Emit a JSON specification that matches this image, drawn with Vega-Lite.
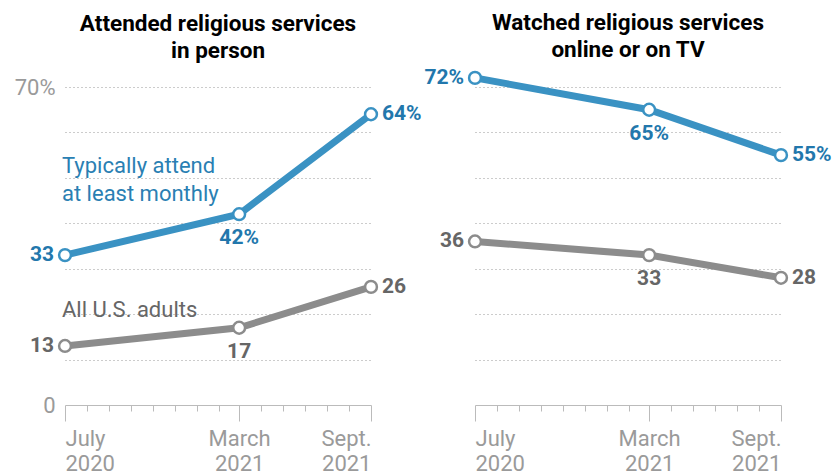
{
  "$schema": "https://vega.github.io/schema/vega-lite/v6.json",
  "padding": {"left": 14, "right": 5, "top": 12, "bottom": 0},
  "bounds": "flush",
  "spacing": 104,
  "config": {
    "font": "Roboto",
    "view": {"stroke": null},
    "title": {"font": "Roboto", "fontSize": 22.5, "fontWeight": "bold", "color": "#000000", "anchor": "middle", "lineHeight": 27, "offset": 14}
  },
  "data": {
    "values": [
      {"panel": "person", "series": "Typically attend at least monthly", "date": "2020-07-01", "value": 33, "label": "33"},
      {"panel": "person", "series": "Typically attend at least monthly", "date": "2021-03-01", "value": 42, "label": "42%"},
      {"panel": "person", "series": "Typically attend at least monthly", "date": "2021-09-01", "value": 64, "label": "64%"},
      {"panel": "person", "series": "All U.S. adults", "date": "2020-07-01", "value": 13, "label": "13"},
      {"panel": "person", "series": "All U.S. adults", "date": "2021-03-01", "value": 17, "label": "17"},
      {"panel": "person", "series": "All U.S. adults", "date": "2021-09-01", "value": 26, "label": "26"},
      {"panel": "online", "series": "Typically attend at least monthly", "date": "2020-07-01", "value": 72, "label": "72%"},
      {"panel": "online", "series": "Typically attend at least monthly", "date": "2021-03-01", "value": 65, "label": "65%"},
      {"panel": "online", "series": "Typically attend at least monthly", "date": "2021-09-01", "value": 55, "label": "55%"},
      {"panel": "online", "series": "All U.S. adults", "date": "2020-07-01", "value": 36, "label": "36"},
      {"panel": "online", "series": "All U.S. adults", "date": "2021-03-01", "value": 33, "label": "33"},
      {"panel": "online", "series": "All U.S. adults", "date": "2021-09-01", "value": 28, "label": "28"}
    ]
  },
  "hconcat": [
    {
      "title": {"text": ["Attended religious services", "in person"]},
      "width": 306,
      "height": 318,
      "transform": [{"filter": "datum.panel == 'person'"}],
      "encoding": {
        "x": {
          "field": "date", "type": "temporal",
          "scale": {"type": "utc", "domain": [{"year": 2020, "month": 7, "date": 1, "utc": true}, {"year": 2021, "month": 9, "date": 1, "utc": true}]},
          "axis": {
            "title": null,
            "grid": false,
            "values": [
              {"year": 2020, "month": 7, "date": 1, "utc": true},
              {"year": 2020, "month": 8, "date": 1, "utc": true},
              {"year": 2020, "month": 9, "date": 1, "utc": true},
              {"year": 2020, "month": 10, "date": 1, "utc": true},
              {"year": 2020, "month": 11, "date": 1, "utc": true},
              {"year": 2020, "month": 12, "date": 1, "utc": true},
              {"year": 2021, "month": 1, "date": 1, "utc": true},
              {"year": 2021, "month": 2, "date": 1, "utc": true},
              {"year": 2021, "month": 3, "date": 1, "utc": true},
              {"year": 2021, "month": 4, "date": 1, "utc": true},
              {"year": 2021, "month": 5, "date": 1, "utc": true},
              {"year": 2021, "month": 6, "date": 1, "utc": true},
              {"year": 2021, "month": 7, "date": 1, "utc": true},
              {"year": 2021, "month": 8, "date": 1, "utc": true},
              {"year": 2021, "month": 9, "date": 1, "utc": true}
            ],
            "labelExpr": "(utcmonth(datum.value) == 6 && utcyear(datum.value) == 2020) ? ['July', '2020'] : (utcmonth(datum.value) == 2) ? ['March', '2021'] : (utcmonth(datum.value) == 8 && utcyear(datum.value) == 2021) ? ['Sept.', '2021'] : ''",
            "tickSize": {"condition": {"test": "(utcmonth(datum.value) == 6 && utcyear(datum.value) == 2020) || utcmonth(datum.value) == 2 || (utcmonth(datum.value) == 8 && utcyear(datum.value) == 2021)", "value": 16}, "value": 6},
            "tickColor": "#bbbbbb",
            "domainColor": "#bbbbbb",
            "labelColor": "#9a9a9a",
            "labelFont": "Roboto",
            "labelFontSize": 22,
            "labelLineHeight": 25,
            "labelFlush": true,
            "labelOverlap": false,
            "labelPadding": 7
          }
        },
        "y": {
          "field": "value", "type": "quantitative",
          "scale": {"domain": [0, 70], "nice": false},
          "axis": {
            "title": null,
            "values": [0, 10, 20, 30, 40, 50, 60, 70],
            "domain": false,
            "ticks": false,
            "grid": true,
            "gridDash": [1, 3],
            "gridColor": "#999999",
            "gridOpacity": {"condition": {"test": "datum.value == 0", "value": 0}, "value": 1},
            "labelExpr": "datum.value == 70 ? '70%' : datum.value == 0 ? '0' : ''",
            "labelColor": "#9a9a9a",
            "labelFont": "Roboto",
            "labelFontSize": 22,
            "labelPadding": 10
          }
        }
      },
      "layer": [
        {
          "mark": {"type": "line", "strokeWidth": 7},
          "encoding": {
            "color": {"field": "series", "type": "nominal", "scale": {"domain": ["Typically attend at least monthly", "All U.S. adults"], "range": ["#3a92c3", "#8c8c8c"]}, "legend": null}
          }
        },
        {
          "mark": {"type": "circle", "fill": "white", "strokeWidth": 2.5, "size": 140, "opacity": 1},
          "encoding": {
            "stroke": {"field": "series", "type": "nominal", "scale": {"domain": ["Typically attend at least monthly", "All U.S. adults"], "range": ["#3a92c3", "#8c8c8c"]}, "legend": null}
          }
        },
        {
          "transform": [{"filter": "utcmonth(datum.date) == 6"}],
          "mark": {"type": "text", "align": "right", "baseline": "middle", "dx": -11, "fontSize": 21, "fontWeight": "bold"},
          "encoding": {
            "text": {"field": "label"},
            "fill": {"field": "series", "type": "nominal", "scale": {"domain": ["Typically attend at least monthly", "All U.S. adults"], "range": ["#2277ac", "#666666"]}, "legend": null}
          }
        },
        {
          "transform": [{"filter": "utcmonth(datum.date) == 2"}],
          "mark": {"type": "text", "align": "center", "baseline": "middle", "dy": 24, "fontSize": 21, "fontWeight": "bold"},
          "encoding": {
            "text": {"field": "label"},
            "fill": {"field": "series", "type": "nominal", "scale": {"domain": ["Typically attend at least monthly", "All U.S. adults"], "range": ["#2277ac", "#666666"]}, "legend": null}
          }
        },
        {
          "transform": [{"filter": "utcmonth(datum.date) == 8"}],
          "mark": {"type": "text", "align": "left", "baseline": "middle", "dx": 11, "fontSize": 21, "fontWeight": "bold"},
          "encoding": {
            "text": {"field": "label"},
            "fill": {"field": "series", "type": "nominal", "scale": {"domain": ["Typically attend at least monthly", "All U.S. adults"], "range": ["#2277ac", "#666666"]}, "legend": null}
          }
        },
        {
          "transform": [{"filter": "datum.series == 'Typically attend at least monthly' && utcmonth(datum.date) == 6"}],
          "mark": {"type": "text", "align": "left", "baseline": "middle", "dx": -3, "fontSize": 22, "lineHeight": 28, "color": "#2a7fb3", "text": ["Typically attend", "at least monthly"]},
          "encoding": {
            "y": {"datum": 52.6, "type": "quantitative"}
          }
        },
        {
          "transform": [{"filter": "datum.series == 'All U.S. adults' && utcmonth(datum.date) == 6"}],
          "mark": {"type": "text", "align": "left", "baseline": "middle", "dx": -3, "fontSize": 22, "color": "#666666", "text": "All U.S. adults"},
          "encoding": {
            "y": {"datum": 21, "type": "quantitative"}
          }
        }
      ]
    },
    {
      "title": {"text": ["Watched religious services", "online or on TV"], "offset": 2},
      "width": 306,
      "height": 318,
      "transform": [{"filter": "datum.panel == 'online'"}],
      "encoding": {
        "x": {
          "field": "date", "type": "temporal",
          "scale": {"type": "utc", "domain": [{"year": 2020, "month": 7, "date": 1, "utc": true}, {"year": 2021, "month": 9, "date": 1, "utc": true}]},
          "axis": {
            "title": null,
            "grid": false,
            "values": [
              {"year": 2020, "month": 7, "date": 1, "utc": true},
              {"year": 2020, "month": 8, "date": 1, "utc": true},
              {"year": 2020, "month": 9, "date": 1, "utc": true},
              {"year": 2020, "month": 10, "date": 1, "utc": true},
              {"year": 2020, "month": 11, "date": 1, "utc": true},
              {"year": 2020, "month": 12, "date": 1, "utc": true},
              {"year": 2021, "month": 1, "date": 1, "utc": true},
              {"year": 2021, "month": 2, "date": 1, "utc": true},
              {"year": 2021, "month": 3, "date": 1, "utc": true},
              {"year": 2021, "month": 4, "date": 1, "utc": true},
              {"year": 2021, "month": 5, "date": 1, "utc": true},
              {"year": 2021, "month": 6, "date": 1, "utc": true},
              {"year": 2021, "month": 7, "date": 1, "utc": true},
              {"year": 2021, "month": 8, "date": 1, "utc": true},
              {"year": 2021, "month": 9, "date": 1, "utc": true}
            ],
            "labelExpr": "(utcmonth(datum.value) == 6 && utcyear(datum.value) == 2020) ? ['July', '2020'] : (utcmonth(datum.value) == 2) ? ['March', '2021'] : (utcmonth(datum.value) == 8 && utcyear(datum.value) == 2021) ? ['Sept.', '2021'] : ''",
            "tickSize": {"condition": {"test": "(utcmonth(datum.value) == 6 && utcyear(datum.value) == 2020) || utcmonth(datum.value) == 2 || (utcmonth(datum.value) == 8 && utcyear(datum.value) == 2021)", "value": 16}, "value": 6},
            "tickColor": "#bbbbbb",
            "domainColor": "#bbbbbb",
            "labelColor": "#9a9a9a",
            "labelFont": "Roboto",
            "labelFontSize": 22,
            "labelLineHeight": 25,
            "labelFlush": true,
            "labelOverlap": false,
            "labelPadding": 7
          }
        },
        "y": {
          "field": "value", "type": "quantitative",
          "scale": {"domain": [0, 70], "nice": false},
          "axis": {
            "title": null,
            "values": [0, 10, 20, 30, 40, 50, 60, 70],
            "domain": false,
            "ticks": false,
            "labels": false,
            "grid": true,
            "gridDash": [1, 3],
            "gridColor": "#999999",
            "gridOpacity": {"condition": {"test": "datum.value == 0", "value": 0}, "value": 1}
          }
        }
      },
      "layer": [
        {
          "mark": {"type": "line", "strokeWidth": 7},
          "encoding": {
            "color": {"field": "series", "type": "nominal", "scale": {"domain": ["Typically attend at least monthly", "All U.S. adults"], "range": ["#3a92c3", "#8c8c8c"]}, "legend": null}
          }
        },
        {
          "mark": {"type": "circle", "fill": "white", "strokeWidth": 2.5, "size": 140, "opacity": 1},
          "encoding": {
            "stroke": {"field": "series", "type": "nominal", "scale": {"domain": ["Typically attend at least monthly", "All U.S. adults"], "range": ["#3a92c3", "#8c8c8c"]}, "legend": null}
          }
        },
        {
          "transform": [{"filter": "utcmonth(datum.date) == 6"}],
          "mark": {"type": "text", "align": "right", "baseline": "middle", "dx": -11, "fontSize": 21, "fontWeight": "bold"},
          "encoding": {
            "text": {"field": "label"},
            "fill": {"field": "series", "type": "nominal", "scale": {"domain": ["Typically attend at least monthly", "All U.S. adults"], "range": ["#2277ac", "#666666"]}, "legend": null}
          }
        },
        {
          "transform": [{"filter": "utcmonth(datum.date) == 2"}],
          "mark": {"type": "text", "align": "center", "baseline": "middle", "dy": 24, "fontSize": 21, "fontWeight": "bold"},
          "encoding": {
            "text": {"field": "label"},
            "fill": {"field": "series", "type": "nominal", "scale": {"domain": ["Typically attend at least monthly", "All U.S. adults"], "range": ["#2277ac", "#666666"]}, "legend": null}
          }
        },
        {
          "transform": [{"filter": "utcmonth(datum.date) == 8"}],
          "mark": {"type": "text", "align": "left", "baseline": "middle", "dx": 11, "fontSize": 21, "fontWeight": "bold"},
          "encoding": {
            "text": {"field": "label"},
            "fill": {"field": "series", "type": "nominal", "scale": {"domain": ["Typically attend at least monthly", "All U.S. adults"], "range": ["#2277ac", "#666666"]}, "legend": null}
          }
        }
      ]
    }
  ]
}
